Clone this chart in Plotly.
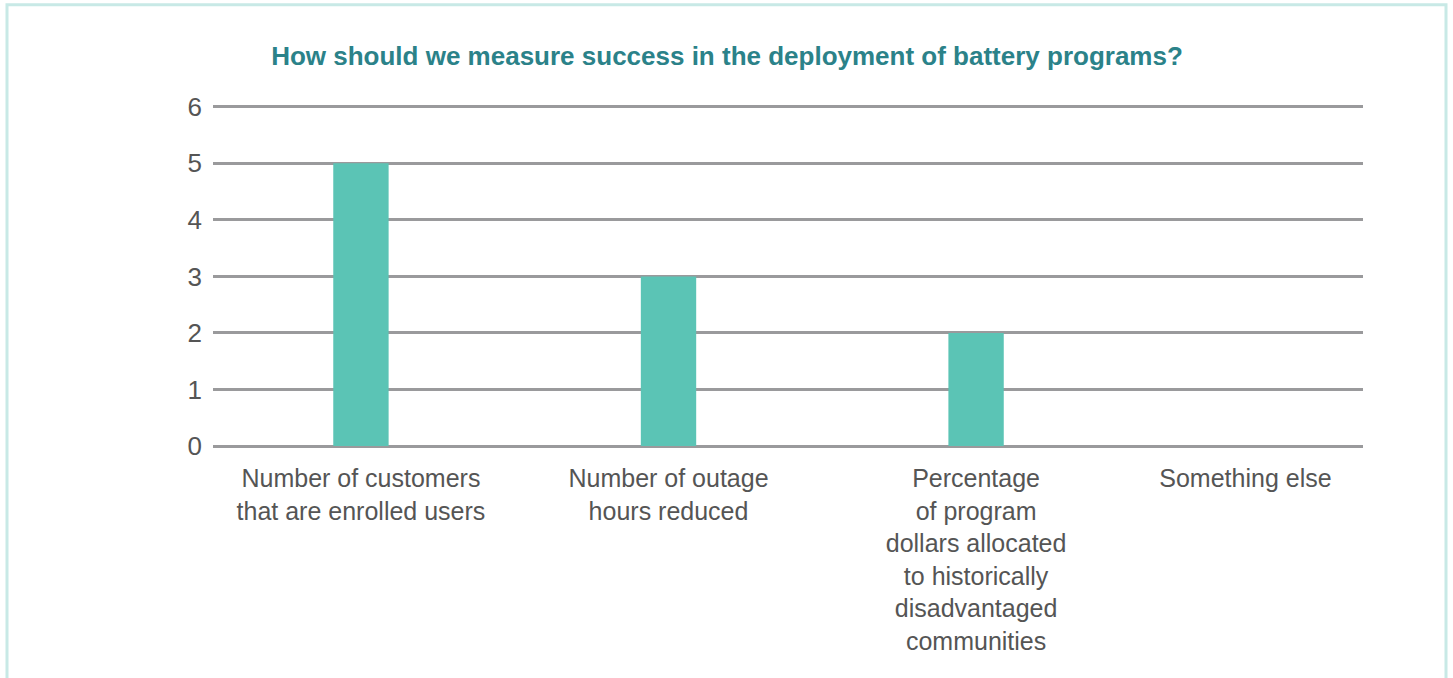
import plotly.graph_objects as go

NB = "\u00a0"
categories = [
    "Number of customers<br>that are enrolled users",
    "Number of outage<br>hours reduced",
    "Percentage<br>of program<br>dollars allocated<br>to historically<br>disadvantaged<br>communities",
    "Something else" + NB * 11,
]
values = [5, 3, 2, 0]
y_ticks = [0, 1, 2, 3, 4, 5, 6]
y_max = 6.05

title_text = "How should we measure success in the deployment of battery programs?"

W, H = 1453, 678
unit_px = 56.5
ml, mr, mb = 213, 90, 232
ph = unit_px * y_max
mt = H - mb - ph
pw = W - ml - mr

def px_x(x):
    return (x - ml) / pw

def px_y(y):
    return (H - mb - y) / ph

FONT = "Liberation Sans, Arial, sans-serif"

fig = go.Figure()
fig.add_trace(go.Bar(
    x=list(range(len(categories))),
    y=values,
    marker=dict(color="#5bc4b5", line=dict(width=0)),
    width=0.18,
    hoverinfo="skip",
))

fig.update_layout(
    width=W, height=H,
    margin=dict(l=ml, r=mr, t=mt, b=mb, pad=0, autoexpand=False),
    paper_bgcolor="white",
    plot_bgcolor="white",
    showlegend=False,
    font=dict(family=FONT, color="#555555", size=26),
    title=dict(
        text=title_text,
        x=px_x(727), xref="paper", xanchor="center",
        y=1 - 56 / H, yanchor="middle",
        font=dict(family=FONT, size=26, color="#2b8289", weight=600),
    ),
    xaxis=dict(
        tickmode="array",
        tickvals=list(range(len(categories))),
        ticktext=categories,
        range=[-0.481, 3.258],
        showgrid=False,
        zeroline=False,
        showline=False,
        ticks="",
        automargin=False,
        tickfont=dict(size=25, color="#555555"),
        ticklabelstandoff=15,
    ),
    yaxis=dict(
        range=[0, y_max],
        tickvals=y_ticks,
        showgrid=True,
        gridcolor="#9a9a9c",
        gridwidth=2.5,
        zeroline=True,
        zerolinecolor="#9a9a9c",
        zerolinewidth=2.5,
        showline=False,
        ticks="",
        automargin=False,
        ticklabelstandoff=10,
        tickfont=dict(size=26, color="#555555"),
    ),
    shapes=[dict(
        type="rect", xref="paper", yref="paper",
        x0=px_x(7), x1=px_x(1446), y0=px_y(700), y1=px_y(5),
        line=dict(color="#c8e9e6", width=3),
        fillcolor="rgba(0,0,0,0)",
        layer="below",
    )],
)

fig.write_html(
    "out.html",
    config={"displayModeBar": False},
    post_script="document.body.style.margin='0px';document.body.style.overflow='hidden';",
)
